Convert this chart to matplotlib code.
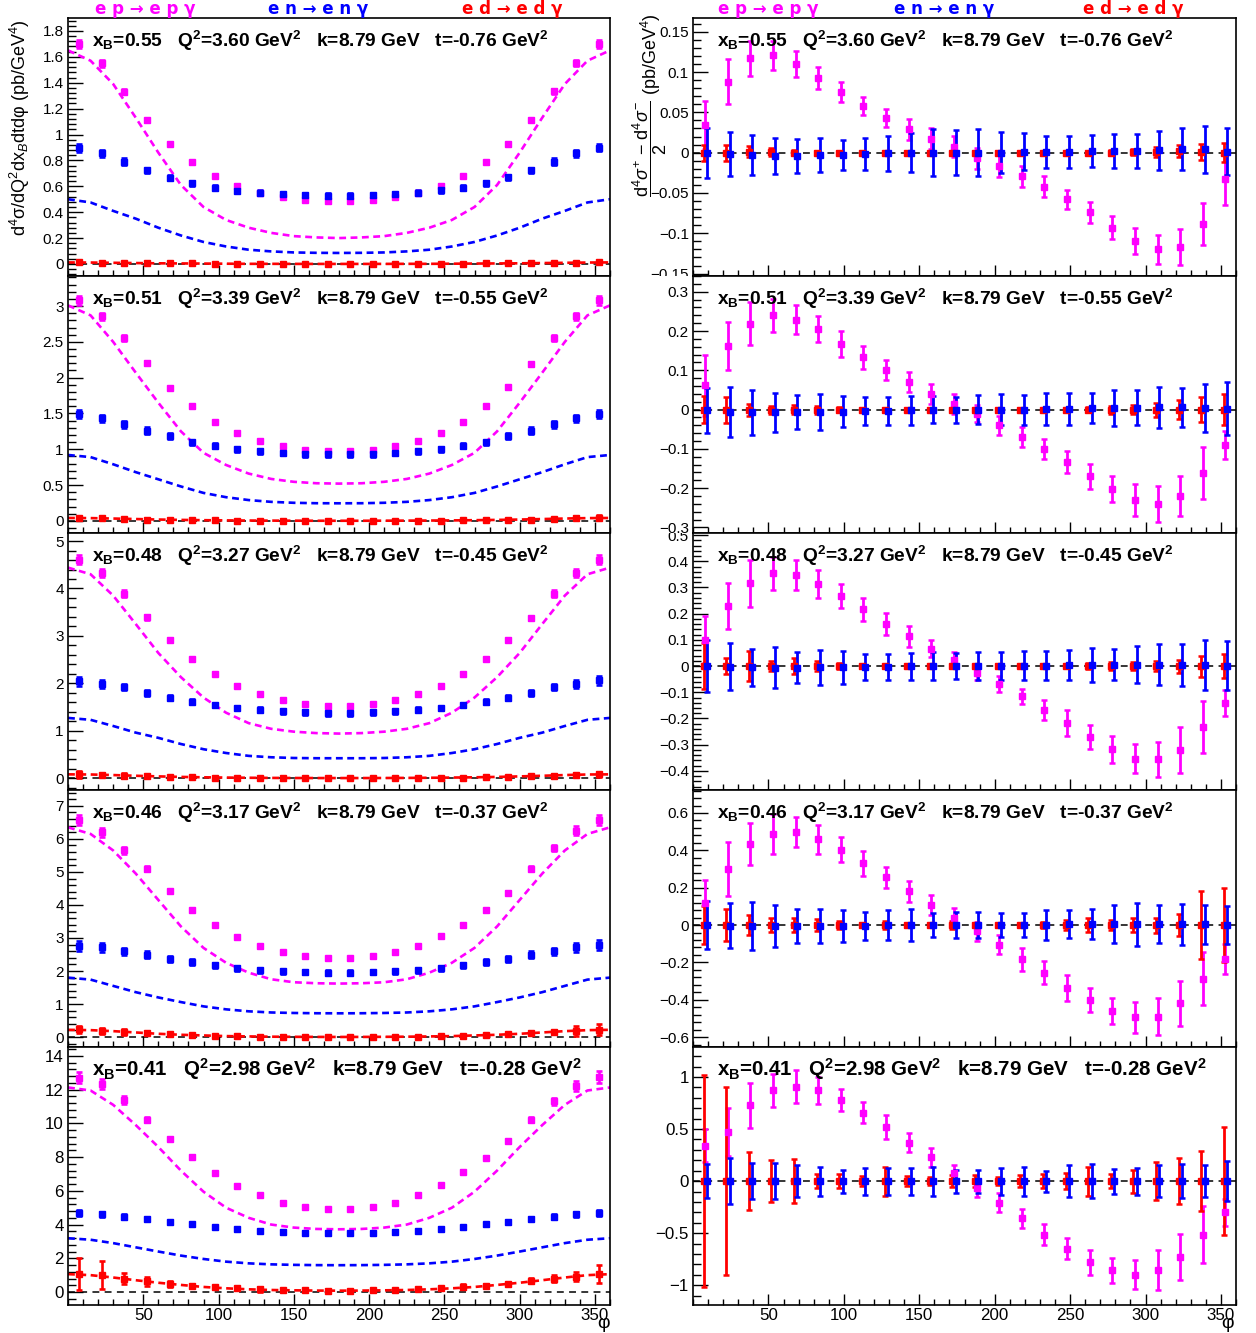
import numpy as np
import matplotlib
matplotlib.use("Agg")
import matplotlib.pyplot as plt
from matplotlib.ticker import FixedLocator, MultipleLocator, FuncFormatter, NullFormatter
from matplotlib.transforms import Bbox, TransformedBbox

plt.rcParams['font.family'] = ['Liberation Sans', 'DejaVu Sans']
plt.rcParams['mathtext.fontset'] = 'custom'
plt.rcParams['mathtext.rm'] = 'Liberation Sans'
plt.rcParams['mathtext.it'] = 'Liberation Sans:italic'
plt.rcParams['mathtext.bf'] = 'Liberation Sans:bold'

# -------------------------
# Data
# -------------------------
phi_bins = [7.5, 22.5, 37.5, 52.5, 67.5, 82.5, 97.5, 112.5, 127.5, 142.5, 157.5, 172.5,
            187.5, 202.5, 217.5, 232.5, 247.5, 262.5, 277.5, 292.5, 307.5, 322.5, 337.5, 352.5]
phi_curve = [0, 15, 30, 45, 60, 75, 90, 105, 120, 135, 150, 165, 180,
             195, 210, 225, 240, 255, 270, 285, 300, 315, 330, 345, 360]

kin_xb = ["0.55", "0.51", "0.48", "0.46", "0.41"]
kin_q2 = ["3.60", "3.39", "3.27", "3.17", "2.98"]
kin_k = ["8.79", "8.79", "8.79", "8.79", "8.79"]
kin_t = ["-0.76", "-0.55", "-0.45", "-0.37", "-0.28"]

# unpolarised cross sections (left column)
xs_ep = [
    [1.70, 1.55, 1.33, 1.11, 0.93, 0.785, 0.68, 0.605, 0.55, 0.518, 0.497, 0.484, 0.484, 0.495, 0.518, 0.552, 0.606, 0.681, 0.785, 0.927, 1.11, 1.334, 1.554, 1.697],
    [3.08, 2.86, 2.55, 2.20, 1.86, 1.60, 1.38, 1.23, 1.12, 1.04, 0.99, 0.97, 0.97, 0.99, 1.04, 1.12, 1.23, 1.38, 1.60, 1.87, 2.19, 2.55, 2.86, 3.08],
    [4.61, 4.33, 3.89, 3.39, 2.92, 2.51, 2.20, 1.95, 1.77, 1.65, 1.57, 1.53, 1.53, 1.57, 1.65, 1.77, 1.95, 2.20, 2.51, 2.92, 3.38, 3.89, 4.33, 4.61],
    [6.57, 6.20, 5.65, 5.10, 4.42, 3.85, 3.40, 3.03, 2.75, 2.57, 2.44, 2.38, 2.38, 2.44, 2.57, 2.75, 3.05, 3.40, 3.85, 4.37, 5.10, 5.73, 6.25, 6.57],
    [12.72, 12.33, 11.38, 10.22, 9.08, 8.02, 7.08, 6.29, 5.74, 5.29, 5.05, 4.90, 4.90, 5.05, 5.29, 5.74, 6.33, 7.12, 7.96, 8.98, 10.22, 11.30, 12.23, 12.76],
]
xs_ep_err = [
    [0.03, 0.025, 0.02, 0.015, 0.012, 0.01, 0.01, 0.01, 0.01, 0.01, 0.01, 0.01, 0.01, 0.01, 0.01, 0.01, 0.01, 0.01, 0.01, 0.012, 0.015, 0.02, 0.025, 0.03],
    [0.06, 0.05, 0.04, 0.03, 0.025, 0.02, 0.02, 0.018, 0.018, 0.018, 0.018, 0.018, 0.018, 0.018, 0.018, 0.018, 0.018, 0.02, 0.02, 0.025, 0.03, 0.04, 0.05, 0.06],
    [0.10, 0.09, 0.07, 0.05, 0.04, 0.035, 0.03, 0.03, 0.03, 0.03, 0.03, 0.03, 0.03, 0.03, 0.03, 0.03, 0.03, 0.03, 0.035, 0.04, 0.05, 0.07, 0.09, 0.10],
    [0.15, 0.13, 0.10, 0.08, 0.06, 0.05, 0.045, 0.04, 0.04, 0.04, 0.04, 0.04, 0.04, 0.04, 0.04, 0.04, 0.04, 0.045, 0.05, 0.06, 0.08, 0.10, 0.13, 0.15],
    [0.35, 0.30, 0.22, 0.15, 0.12, 0.10, 0.09, 0.08, 0.08, 0.08, 0.08, 0.08, 0.08, 0.08, 0.08, 0.08, 0.08, 0.09, 0.10, 0.12, 0.15, 0.22, 0.30, 0.35],
]
xs_en = [
    [0.894, 0.855, 0.79, 0.723, 0.666, 0.624, 0.588, 0.567, 0.552, 0.539, 0.531, 0.526, 0.526, 0.531, 0.539, 0.552, 0.57, 0.59, 0.624, 0.668, 0.725, 0.79, 0.855, 0.899],
    [1.49, 1.43, 1.35, 1.26, 1.18, 1.10, 1.05, 1.00, 0.97, 0.95, 0.93, 0.93, 0.93, 0.93, 0.95, 0.97, 1.00, 1.05, 1.10, 1.18, 1.26, 1.35, 1.43, 1.49],
    [2.04, 1.99, 1.92, 1.80, 1.70, 1.61, 1.54, 1.48, 1.44, 1.41, 1.39, 1.37, 1.37, 1.39, 1.41, 1.44, 1.48, 1.54, 1.61, 1.70, 1.80, 1.92, 1.99, 2.06],
    [2.75, 2.72, 2.60, 2.50, 2.37, 2.27, 2.17, 2.09, 2.03, 2.00, 1.97, 1.95, 1.95, 1.97, 2.00, 2.03, 2.09, 2.17, 2.27, 2.37, 2.50, 2.60, 2.72, 2.78],
    [4.66, 4.60, 4.46, 4.33, 4.17, 4.01, 3.83, 3.72, 3.64, 3.56, 3.52, 3.48, 3.48, 3.52, 3.56, 3.64, 3.72, 3.83, 4.01, 4.17, 4.33, 4.46, 4.60, 4.66],
]
xs_en_err = [
    [0.03, 0.025, 0.025, 0.02, 0.02, 0.02, 0.02, 0.02, 0.02, 0.02, 0.02, 0.02, 0.02, 0.02, 0.02, 0.02, 0.02, 0.02, 0.02, 0.02, 0.02, 0.025, 0.025, 0.03],
    [0.06, 0.055, 0.05, 0.045, 0.04, 0.035, 0.035, 0.035, 0.035, 0.035, 0.035, 0.035, 0.035, 0.035, 0.035, 0.035, 0.035, 0.035, 0.035, 0.04, 0.045, 0.05, 0.055, 0.06],
    [0.10, 0.08, 0.07, 0.06, 0.055, 0.05, 0.05, 0.05, 0.05, 0.05, 0.05, 0.05, 0.05, 0.05, 0.05, 0.05, 0.05, 0.05, 0.05, 0.055, 0.06, 0.07, 0.08, 0.10],
    [0.15, 0.13, 0.11, 0.10, 0.09, 0.08, 0.08, 0.075, 0.075, 0.075, 0.075, 0.075, 0.075, 0.075, 0.075, 0.075, 0.075, 0.08, 0.08, 0.09, 0.10, 0.11, 0.13, 0.15],
    [0.18, 0.16, 0.14, 0.13, 0.12, 0.11, 0.11, 0.11, 0.11, 0.11, 0.11, 0.11, 0.11, 0.11, 0.11, 0.11, 0.11, 0.11, 0.11, 0.12, 0.13, 0.14, 0.16, 0.18],
]
xs_ed = [
    [0.012, 0.010, 0.008, 0.006, 0.005, 0.004, 0.003, 0.002, 0.002, 0.001, 0.001, 0.001, 0.001, 0.001, 0.001, 0.002, 0.002, 0.003, 0.004, 0.005, 0.006, 0.008, 0.010, 0.012],
    [0.04, 0.035, 0.025, 0.018, 0.012, 0.008, 0.005, 0.004, 0.003, 0.002, 0.002, 0.001, 0.001, 0.002, 0.002, 0.003, 0.004, 0.005, 0.008, 0.012, 0.018, 0.025, 0.035, 0.04],
    [0.08, 0.065, 0.05, 0.035, 0.025, 0.018, 0.012, 0.008, 0.006, 0.004, 0.003, 0.002, 0.002, 0.003, 0.004, 0.006, 0.008, 0.012, 0.018, 0.025, 0.035, 0.05, 0.065, 0.08],
    [0.23, 0.19, 0.15, 0.11, 0.08, 0.055, 0.04, 0.025, 0.015, 0.01, 0.006, 0.004, 0.004, 0.006, 0.01, 0.015, 0.025, 0.04, 0.055, 0.08, 0.11, 0.15, 0.19, 0.22],
    [1.06, 1.00, 0.80, 0.63, 0.47, 0.37, 0.28, 0.22, 0.16, 0.12, 0.10, 0.08, 0.08, 0.10, 0.12, 0.16, 0.22, 0.30, 0.37, 0.49, 0.67, 0.80, 0.92, 1.06],
]
xs_ed_err = [
    [0.008, 0.007, 0.005, 0.004, 0.003, 0.003, 0.003, 0.003, 0.003, 0.003, 0.003, 0.003, 0.003, 0.003, 0.003, 0.003, 0.003, 0.003, 0.003, 0.003, 0.004, 0.005, 0.007, 0.009],
    [0.03, 0.028, 0.02, 0.015, 0.012, 0.01, 0.008, 0.008, 0.008, 0.008, 0.008, 0.008, 0.008, 0.008, 0.008, 0.008, 0.008, 0.01, 0.01, 0.012, 0.015, 0.02, 0.028, 0.035],
    [0.07, 0.05, 0.05, 0.03, 0.03, 0.02, 0.015, 0.012, 0.012, 0.012, 0.012, 0.012, 0.012, 0.012, 0.012, 0.012, 0.012, 0.015, 0.02, 0.025, 0.03, 0.04, 0.05, 0.06],
    [0.12, 0.10, 0.08, 0.06, 0.05, 0.04, 0.03, 0.025, 0.025, 0.025, 0.025, 0.025, 0.025, 0.025, 0.025, 0.025, 0.025, 0.03, 0.035, 0.04, 0.05, 0.07, 0.15, 0.17],
    [0.95, 0.85, 0.30, 0.25, 0.20, 0.10, 0.08, 0.08, 0.15, 0.08, 0.07, 0.07, 0.07, 0.07, 0.07, 0.08, 0.10, 0.15, 0.10, 0.12, 0.15, 0.20, 0.25, 0.55],
]

# model curves (dashed, left column)
fit_ep = [
    [1.65, 1.57, 1.39, 1.13, 0.86, 0.61, 0.44, 0.34, 0.28, 0.24, 0.215, 0.205, 0.20, 0.205, 0.215, 0.24, 0.28, 0.34, 0.44, 0.61, 0.86, 1.13, 1.39, 1.57, 1.65],
    [3.01, 2.87, 2.50, 2.07, 1.65, 1.25, 0.95, 0.78, 0.66, 0.585, 0.545, 0.525, 0.52, 0.525, 0.545, 0.585, 0.66, 0.78, 0.95, 1.25, 1.65, 2.07, 2.50, 2.87, 3.01],
    [4.44, 4.30, 3.85, 3.25, 2.64, 2.13, 1.70, 1.38, 1.16, 1.04, 0.98, 0.95, 0.94, 0.95, 0.98, 1.04, 1.16, 1.38, 1.70, 2.13, 2.64, 3.25, 3.85, 4.30, 4.44],
    [6.35, 6.15, 5.65, 4.95, 4.15, 3.35, 2.70, 2.25, 1.95, 1.75, 1.66, 1.63, 1.62, 1.63, 1.66, 1.75, 1.95, 2.25, 2.70, 3.35, 4.15, 4.95, 5.65, 6.15, 6.35],
    [12.13, 11.95, 11.10, 9.90, 8.60, 7.20, 5.95, 5.00, 4.40, 4.00, 3.82, 3.74, 3.72, 3.74, 3.82, 4.00, 4.40, 5.00, 5.95, 7.20, 8.60, 9.90, 11.10, 11.95, 12.13],
]
fit_en = [
    [0.50, 0.475, 0.41, 0.35, 0.28, 0.22, 0.17, 0.135, 0.11, 0.097, 0.089, 0.086, 0.085, 0.086, 0.089, 0.097, 0.11, 0.135, 0.17, 0.22, 0.28, 0.35, 0.41, 0.475, 0.50],
    [0.92, 0.89, 0.79, 0.68, 0.58, 0.48, 0.39, 0.33, 0.29, 0.265, 0.252, 0.246, 0.245, 0.246, 0.252, 0.265, 0.29, 0.33, 0.39, 0.48, 0.58, 0.68, 0.79, 0.89, 0.92],
    [1.27, 1.23, 1.10, 0.96, 0.85, 0.72, 0.61, 0.53, 0.47, 0.44, 0.425, 0.42, 0.42, 0.42, 0.425, 0.44, 0.47, 0.53, 0.61, 0.72, 0.85, 0.96, 1.10, 1.23, 1.27],
    [1.80, 1.74, 1.55, 1.36, 1.20, 1.06, 0.93, 0.84, 0.78, 0.745, 0.73, 0.722, 0.72, 0.722, 0.73, 0.745, 0.78, 0.84, 0.93, 1.06, 1.20, 1.36, 1.55, 1.74, 1.80],
    [3.19, 3.10, 2.90, 2.65, 2.40, 2.16, 1.96, 1.80, 1.70, 1.64, 1.61, 1.595, 1.59, 1.595, 1.61, 1.64, 1.70, 1.80, 1.96, 2.16, 2.40, 2.65, 2.90, 3.10, 3.19],
]
fit_ed = [
    [0.012, 0.011, 0.009, 0.007, 0.005, 0.004, 0.003, 0.002, 0.001, 0.001, 0.0005, 0.0003, 0.0003, 0.0003, 0.0005, 0.001, 0.001, 0.002, 0.003, 0.004, 0.005, 0.007, 0.009, 0.011, 0.012],
    [0.04, 0.038, 0.032, 0.025, 0.018, 0.013, 0.009, 0.006, 0.004, 0.003, 0.002, 0.001, 0.001, 0.001, 0.002, 0.003, 0.004, 0.006, 0.009, 0.013, 0.018, 0.025, 0.032, 0.038, 0.04],
    [0.08, 0.077, 0.065, 0.05, 0.037, 0.026, 0.018, 0.012, 0.008, 0.005, 0.003, 0.002, 0.002, 0.002, 0.003, 0.005, 0.008, 0.012, 0.018, 0.026, 0.037, 0.05, 0.065, 0.077, 0.08],
    [0.22, 0.21, 0.18, 0.14, 0.10, 0.07, 0.05, 0.03, 0.02, 0.012, 0.008, 0.005, 0.004, 0.005, 0.008, 0.012, 0.02, 0.03, 0.05, 0.07, 0.10, 0.14, 0.18, 0.21, 0.22],
    [1.06, 1.00, 0.86, 0.70, 0.55, 0.42, 0.30, 0.22, 0.16, 0.12, 0.10, 0.085, 0.08, 0.085, 0.10, 0.12, 0.16, 0.22, 0.30, 0.42, 0.55, 0.70, 0.86, 1.00, 1.06],
]

# beam-helicity differences (right column)
dxs_ep = [
    [0.034, 0.088, 0.117, 0.121, 0.110, 0.0925, 0.075, 0.058, 0.043, 0.029, 0.017, 0.0075, -0.007, -0.016, -0.029, -0.042, -0.058, -0.074, -0.093, -0.110, -0.120, -0.117, -0.089, -0.033],
    [0.062, 0.162, 0.219, 0.240, 0.229, 0.205, 0.168, 0.133, 0.100, 0.070, 0.039, 0.015, -0.010, -0.040, -0.070, -0.100, -0.133, -0.170, -0.202, -0.230, -0.240, -0.220, -0.161, -0.090],
    [0.10, 0.228, 0.316, 0.354, 0.349, 0.314, 0.267, 0.216, 0.162, 0.114, 0.067, 0.025, -0.025, -0.068, -0.116, -0.167, -0.217, -0.270, -0.318, -0.353, -0.356, -0.320, -0.233, -0.140],
    [0.12, 0.30, 0.434, 0.486, 0.496, 0.46, 0.404, 0.33, 0.255, 0.18, 0.108, 0.037, -0.034, -0.106, -0.184, -0.255, -0.335, -0.40, -0.459, -0.495, -0.49, -0.42, -0.287, -0.18],
    [0.34, 0.47, 0.727, 0.872, 0.907, 0.872, 0.779, 0.657, 0.522, 0.369, 0.228, 0.08, -0.07, -0.208, -0.359, -0.513, -0.65, -0.779, -0.856, -0.90, -0.856, -0.73, -0.513, -0.30],
]
dxs_ep_err = [
    [0.03, 0.028, 0.022, 0.018, 0.016, 0.014, 0.012, 0.011, 0.011, 0.013, 0.013, 0.013, 0.013, 0.014, 0.013, 0.013, 0.012, 0.013, 0.014, 0.016, 0.018, 0.022, 0.026, 0.032],
    [0.078, 0.06, 0.055, 0.042, 0.037, 0.034, 0.033, 0.03, 0.025, 0.025, 0.025, 0.025, 0.022, 0.025, 0.025, 0.025, 0.028, 0.032, 0.032, 0.04, 0.045, 0.05, 0.066, 0.035],
    [0.09, 0.088, 0.09, 0.062, 0.057, 0.053, 0.046, 0.044, 0.042, 0.040, 0.034, 0.03, 0.03, 0.03, 0.03, 0.038, 0.05, 0.046, 0.052, 0.056, 0.068, 0.088, 0.10, 0.05],
    [0.12, 0.145, 0.11, 0.107, 0.08, 0.078, 0.065, 0.065, 0.055, 0.055, 0.055, 0.055, 0.05, 0.05, 0.06, 0.06, 0.07, 0.065, 0.07, 0.085, 0.10, 0.12, 0.14, 0.08],
    [0.16, 0.23, 0.22, 0.16, 0.16, 0.13, 0.11, 0.10, 0.115, 0.09, 0.09, 0.07, 0.08, 0.09, 0.09, 0.10, 0.10, 0.12, 0.12, 0.14, 0.19, 0.22, 0.27, 0.13],
]
dxs_en = [
    [0.0, -0.002, -0.003, -0.004, -0.004, -0.003, -0.003, -0.002, -0.001, 0.0, 0.0, 0.0, 0.0, 0.0, 0.001, 0.001, 0.001, 0.002, 0.002, 0.002, 0.003, 0.004, 0.004, 0.001],
    [-0.002, -0.006, -0.007, -0.007, -0.007, -0.006, -0.005, -0.004, -0.003, -0.002, 0.0, 0.0, 0.0, 0.0, 0.0, 0.001, 0.002, 0.003, 0.004, 0.005, 0.006, 0.006, 0.004, 0.002],
    [0.0, -0.003, -0.005, -0.006, -0.006, -0.005, -0.004, -0.003, -0.002, -0.001, 0.0, 0.0, 0.0, 0.0, 0.001, 0.002, 0.003, 0.004, 0.005, 0.006, 0.006, 0.005, 0.004, 0.002],
    [0.0, -0.003, -0.004, -0.005, -0.005, -0.005, -0.004, -0.003, -0.002, -0.001, 0.0, 0.0, 0.0, 0.0, 0.001, 0.002, 0.003, 0.004, 0.005, 0.005, 0.005, 0.004, 0.003, 0.0],
    [0.0, 0.0, 0.0, 0.0, 0.0, 0.0, 0.0, 0.0, 0.0, 0.0, 0.0, 0.0, 0.0, 0.0, 0.0, 0.0, 0.0, 0.0, 0.0, 0.0, 0.0, 0.0, 0.0, 0.0],
]
dxs_en_err = [
    [0.031, 0.027, 0.025, 0.022, 0.021, 0.021, 0.019, 0.02, 0.022, 0.024, 0.029, 0.028, 0.029, 0.025, 0.023, 0.02, 0.02, 0.02, 0.021, 0.021, 0.024, 0.026, 0.029, 0.029],
    [0.058, 0.063, 0.057, 0.05, 0.043, 0.046, 0.04, 0.035, 0.036, 0.036, 0.035, 0.033, 0.037, 0.04, 0.038, 0.04, 0.04, 0.038, 0.045, 0.045, 0.052, 0.05, 0.06, 0.067],
    [0.10, 0.09, 0.07, 0.078, 0.058, 0.066, 0.063, 0.05, 0.05, 0.052, 0.055, 0.05, 0.052, 0.052, 0.056, 0.057, 0.057, 0.064, 0.06, 0.072, 0.08, 0.08, 0.095, 0.095],
    [0.13, 0.12, 0.13, 0.11, 0.09, 0.09, 0.085, 0.075, 0.08, 0.085, 0.065, 0.072, 0.068, 0.065, 0.065, 0.08, 0.075, 0.08, 0.10, 0.115, 0.10, 0.11, 0.105, 0.10],
    [0.16, 0.22, 0.17, 0.17, 0.15, 0.14, 0.11, 0.13, 0.13, 0.13, 0.14, 0.11, 0.11, 0.13, 0.14, 0.10, 0.15, 0.16, 0.12, 0.13, 0.15, 0.16, 0.15, 0.19],
]
dxs_ed = [
    [0.0, 0.0, 0.001, 0.001, 0.0, 0.0, 0.0, 0.0, 0.0, 0.0, 0.0, 0.0, 0.0, 0.0, 0.0, 0.0, 0.0, 0.0, 0.0, 0.001, 0.001, 0.002, 0.001, 0.0],
    [0.0, 0.0, 0.0, 0.0, 0.0, 0.0, 0.0, 0.0, 0.0, 0.0, 0.0, 0.0, 0.0, 0.0, 0.0, 0.0, 0.0, 0.0, 0.0, 0.0, 0.0, 0.0, 0.0, 0.0],
    [0.0, 0.0, 0.0, 0.0, 0.0, 0.0, 0.0, 0.0, 0.0, 0.0, 0.0, 0.0, 0.0, 0.0, 0.0, 0.0, 0.0, 0.0, 0.0, 0.0, 0.0, 0.0, 0.0, 0.0],
    [0.0, 0.0, 0.0, 0.0, 0.0, 0.0, 0.0, 0.0, 0.0, 0.0, 0.0, 0.0, 0.0, 0.0, 0.0, 0.0, 0.0, 0.0, 0.0, 0.0, 0.0, 0.0, 0.0, 0.0],
    [0.0, 0.0, 0.0, 0.0, 0.0, 0.0, 0.0, 0.0, 0.0, 0.0, 0.0, 0.0, 0.0, 0.0, 0.0, 0.0, 0.0, 0.0, 0.0, 0.0, 0.0, 0.0, 0.0, 0.0],
]
dxs_ed_err = [
    [0.01, 0.01, 0.007, 0.005, 0.003, 0.002, 0.002, 0.002, 0.002, 0.002, 0.002, 0.002, 0.002, 0.002, 0.002, 0.002, 0.002, 0.002, 0.003, 0.004, 0.006, 0.007, 0.01, 0.012],
    [0.035, 0.033, 0.015, 0.01, 0.012, 0.01, 0.006, 0.004, 0.004, 0.004, 0.004, 0.004, 0.004, 0.004, 0.004, 0.004, 0.004, 0.006, 0.01, 0.012, 0.018, 0.025, 0.032, 0.04],
    [0.088, 0.03, 0.058, 0.02, 0.03, 0.02, 0.01, 0.008, 0.006, 0.006, 0.006, 0.008, 0.006, 0.004, 0.005, 0.006, 0.008, 0.012, 0.014, 0.015, 0.02, 0.025, 0.04, 0.045],
    [0.10, 0.087, 0.053, 0.035, 0.035, 0.032, 0.022, 0.01, 0.02, 0.012, 0.008, 0.02, 0.01, 0.008, 0.008, 0.015, 0.025, 0.035, 0.025, 0.035, 0.04, 0.06, 0.18, 0.20],
    [1.02, 0.90, 0.28, 0.20, 0.21, 0.065, 0.065, 0.05, 0.14, 0.05, 0.04, 0.06, 0.06, 0.04, 0.06, 0.07, 0.08, 0.14, 0.07, 0.11, 0.18, 0.22, 0.29, 0.52],
]

# axis ranges and ticks per row
left_ylim = [(-0.093, 1.9), (-0.17, 3.42), (-0.25, 5.17), (-0.30, 7.48), (-0.77, 14.53)]
left_major = [0.2, 0.5, 1.0, 1.0, 2.0]
right_ylim = [(-0.153, 0.167), (-0.314, 0.34), (-0.473, 0.508), (-0.653, 0.723), (-1.19, 1.288)]
right_major = [0.05, 0.1, 0.1, 0.2, 0.5]

# -------------------------
# Layout (pixel geometry of the ROOT canvas)
# -------------------------
W, H = 1256, 1333
MAGENTA, BLUE, RED = (1, 0, 1), (0, 0, 1), (1, 0, 0)

row_top = [18, 276, 533, 790, 1047]
row_bot = [276, 533, 790, 1047, 1305]
frame_x = [(68, 610), (693, 1236)]
pad_x = [(0, 628), (628, 1256)]

fig = plt.figure(figsize=(W / 100, H / 100), dpi=100)


def rect(x0, x1, yt, yb):
    return [x0 / W, 1 - yb / H, (x1 - x0) / W, (yb - yt) / H]


def fmt_tick(v, pos):
    if abs(v) < 1e-9:
        return "0"
    return ("%g" % round(v, 6)).replace("-", "\u2212")


def ticks_between(lo, hi, step):
    start = np.ceil(lo / step - 1e-9) * step
    return list(np.arange(start, hi + 1e-9, step))


def style(ax, ylim, major, row, col):
    ax.set_xlim(0, 360)
    ax.set_ylim(*ylim)
    ax.xaxis.set_major_locator(FixedLocator([50, 100, 150, 200, 250, 300, 350]))
    ax.xaxis.set_minor_locator(MultipleLocator(10))
    ax.yaxis.set_major_locator(FixedLocator(ticks_between(ylim[0], ylim[1], major)))
    ax.yaxis.set_minor_locator(MultipleLocator(major / 5))
    ax.yaxis.set_major_formatter(FuncFormatter(fmt_tick))
    big = row == 4
    lsize = 12.2 if big else 11
    ax.tick_params(axis='both', which='both', direction='in', top=False, right=False, width=1.0)
    ax.tick_params(axis='y', which='major', length=11, labelsize=lsize, pad=3)
    ax.tick_params(axis='y', which='minor', length=6)
    ax.tick_params(axis='x', which='major', length=8, labelsize=lsize, pad=2)
    ax.tick_params(axis='x', which='minor', length=4)
    if not big:
        ax.xaxis.set_major_formatter(NullFormatter())
    for sp in ax.spines.values():
        sp.set_linewidth(1.2)
    # clip labels to the pad, like ROOT does
    pt = 0 if row == 0 else row_top[row]
    pb = H if row == 4 else row_bot[row]
    px0, px1 = pad_x[col]
    clip = TransformedBbox(Bbox([[px0 / W, 1 - pb / H], [px1 / W, 1 - pt / H]]), fig.transFigure)
    for lab in ax.get_yticklabels():
        lab.set_clip_on(True)
        lab.set_clip_box(clip)


def kin_label(row, col):
    s = ("x$_\\mathbf{B}$=%s   Q$^\\mathbf{2}$=%s GeV$^\\mathbf{2}$   k=%s GeV   t=%s GeV$^\\mathbf{2}$"
         % (kin_xb[row], kin_q2[row], kin_k[row], kin_t[row]))
    size = 14.8 if row == 4 else 13.8
    x = frame_x[col][0] + 24
    y = row_top[row] + 29
    fig.text(x / W, 1 - y / H, s, fontsize=size, fontweight='bold', ha='left', va='baseline')


zero_style = dict(color='black', lw=1.1, dashes=(4.5, 3.5), zorder=1)
curve_style = dict(lw=1.9, dashes=(2.6, 1.7), zorder=2)

for r in range(5):
    # ---- left: cross sections
    ax = fig.add_axes(rect(frame_x[0][0], frame_x[0][1], row_top[r], row_bot[r]))
    ax.axhline(0, **zero_style)
    for fit, c in [(fit_ep, MAGENTA), (fit_en, BLUE), (fit_ed, RED)]:
        ax.plot(phi_curve, fit[r], color=c, **curve_style)
    for vals, errs, c in [(xs_ep, xs_ep_err, MAGENTA), (xs_en, xs_en_err, BLUE), (xs_ed, xs_ed_err, RED)]:
        ax.errorbar(phi_bins, vals[r], yerr=errs[r], fmt='s', color=c, mec=c, ms=4.6,
                    elinewidth=1.9, capsize=2.4, capthick=1.9, zorder=3)
    style(ax, left_ylim[r], left_major[r], r, 0)
    kin_label(r, 0)

    # ---- right: helicity differences
    ax = fig.add_axes(rect(frame_x[1][0], frame_x[1][1], row_top[r], row_bot[r]))
    ax.axhline(0, **zero_style)
    for vals, errs, c, dphi in [(dxs_ep, dxs_ep_err, MAGENTA, 0.5), (dxs_ed, dxs_ed_err, RED, -0.5),
                                (dxs_en, dxs_en_err, BLUE, 1.7)]:
        ax.errorbar(np.array(phi_bins) + dphi, vals[r], yerr=errs[r], fmt='s', color=c, mec=c, ms=3.8,
                    elinewidth=2.0, capsize=2.4, capthick=1.8, zorder=3)
    style(ax, right_ylim[r], right_major[r], r, 1)
    kin_label(r, 1)

# process headers
for x0, lab, c in [(145, "e p \u2192 e p \u03b3", MAGENTA), (318, "e n \u2192 e n \u03b3", BLUE),
                   (512, "e d \u2192 e d \u03b3", RED), (768, "e p \u2192 e p \u03b3", MAGENTA),
                   (944, "e n \u2192 e n \u03b3", BLUE), (1133, "e d \u2192 e d \u03b3", RED)]:
    fig.text(x0 / W, 1 - 9 / H, lab, color=c, fontsize=12, fontweight='bold', family=['DejaVu Sans'],
             ha='center', va='center')

# axis titles
fig.text(20 / W, 1 - 128 / H, "d$^{4}$\u03c3/dQ$^{2}$dx$_{B}$dtd\u03c6 (pb/GeV$^{4}$)",
         rotation=90, fontsize=13, ha='center', va='center')
fig.text(650 / W, 1 - 105 / H,
         r"$\dfrac{\mathrm{d}^{4}\sigma^{+}\ \mathrm{-}\ \mathrm{d}^{4}\sigma^{-}}{2}$ (pb/GeV$^{4}$)",
         rotation=90, fontsize=13, ha='center', va='center')
fig.text(604 / W, 1 - 1323 / H, "\u03c6", fontsize=14, ha='center', va='center')
fig.text(1228 / W, 1 - 1323 / H, "\u03c6", fontsize=14, ha='center', va='center')

fig.savefig("out.png", dpi=100, facecolor='white')
